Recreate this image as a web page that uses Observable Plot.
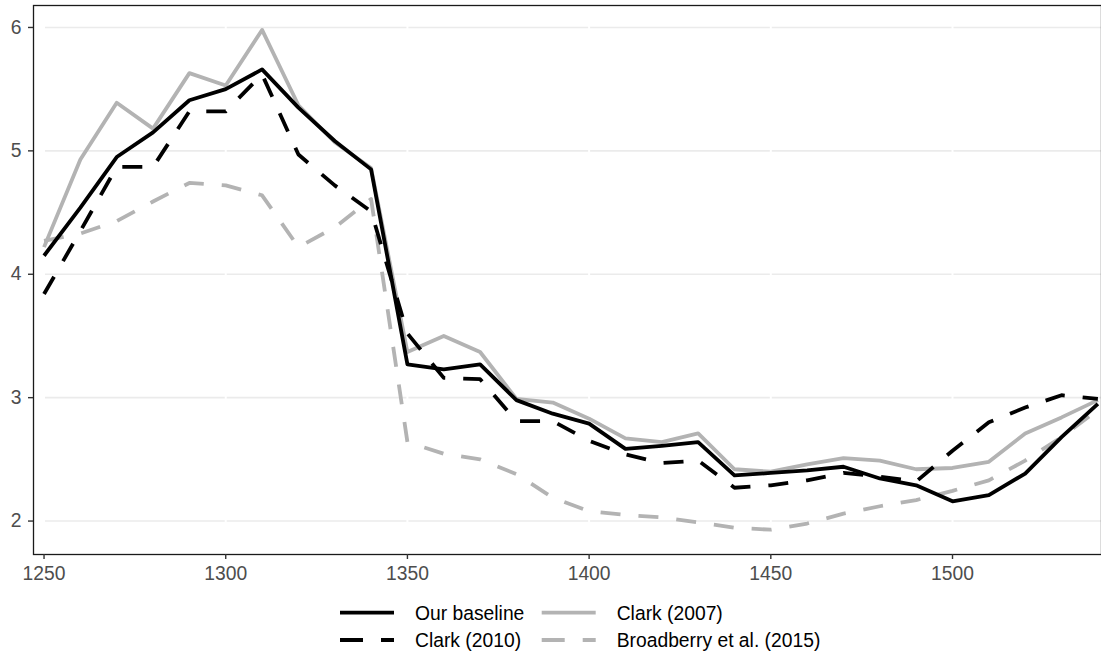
<!DOCTYPE html>
<html><head><meta charset="utf-8">
<script src="https://cdn.jsdelivr.net/npm/d3@7"></script>
<script src="https://cdn.jsdelivr.net/npm/@observablehq/plot@0.6"></script>
<style>
body{margin:0;background:#fff;font-family:"Liberation Sans",Arial,sans-serif}
#chart{width:1101px;position:relative}
</style>
</head><body><div id="chart"></div>
<script>
const years = [1250,1260,1270,1280,1290,1300,1310,1320,1330,1340,1350,1360,1370,1380,1390,1400,1410,1420,1430,1440,1450,1460,1470,1480,1490,1500,1510,1520,1530,1540];
const baseline = [4.15,4.54,4.95,5.15,5.41,5.50,5.66,5.35,5.08,4.85,3.27,3.23,3.27,2.98,2.87,2.79,2.585,2.61,2.64,2.37,2.39,2.41,2.44,2.345,2.29,2.16,2.21,2.385,2.68,2.95];
const clark2007 = [4.22,4.93,5.39,5.18,5.63,5.53,5.98,5.37,5.07,4.86,3.37,3.50,3.37,2.99,2.96,2.83,2.67,2.64,2.71,2.42,2.40,2.46,2.51,2.49,2.42,2.43,2.48,2.71,2.84,2.98];
const clark2010 = [3.84,4.35,4.87,4.87,5.32,5.32,5.62,4.97,4.72,4.51,3.52,3.16,3.15,2.81,2.81,2.65,2.54,2.47,2.49,2.27,2.29,2.33,2.39,2.36,2.32,2.57,2.80,2.92,3.02,2.99];
const broadberry = [4.27,4.33,4.43,4.59,4.74,4.72,4.64,4.22,4.38,4.61,2.64,2.545,2.50,2.38,2.19,2.08,2.05,2.03,1.99,1.945,1.93,1.98,2.06,2.12,2.17,2.245,2.33,2.49,2.68,2.90];
const seriesNames = ["Our baseline","Clark (2007)","Clark (2010)","Broadberry et al. (2015)"];
const xTicks = [1250,1300,1350,1400,1450,1500];
const yTicks = [2,3,4,5,6];

const rows = (vals) => years.map((year, i) => ({year, value: vals[i]}));
const GRAY = "#b3b3b3", BLACK = "#000000";
const DASH = "20,18";
const LW = 3.8;
const FS = 19.3;

const chart = Plot.plot({
  width: 1101, height: 590,
  marginTop: 5, marginBottom: 36, marginLeft: 33, marginRight: 0,
  x: {domain: [1247.1, 1541]},
  y: {domain: [1.729, 6.178]},
  style: {fontFamily: '"Liberation Sans", Arial, sans-serif', fontSize: FS + "px", background: "white", overflow: "visible"},
  marks: [
    Plot.ruleY(yTicks, {x1: 1250, x2: 1541, stroke: "#ebebeb", strokeWidth: 1.6}),
    Plot.ruleX(xTicks, {stroke: "white", strokeWidth: 2}),
    Plot.line(rows(broadberry), {x: "year", y: "value", stroke: GRAY, strokeWidth: LW, strokeDasharray: DASH, strokeLinecap: "butt"}),
    Plot.line(rows(clark2007), {x: "year", y: "value", stroke: GRAY, strokeWidth: LW, strokeLinecap: "butt"}),
    Plot.line(rows(clark2010), {x: "year", y: "value", stroke: BLACK, strokeWidth: LW, strokeDasharray: DASH, strokeLinecap: "butt"}),
    Plot.line(rows(baseline), {x: "year", y: "value", stroke: BLACK, strokeWidth: LW, strokeLinecap: "butt"}),
    Plot.frame({stroke: "#1a1a1a", strokeWidth: 1.3}),
    Plot.axisX({ticks: xTicks, tickSize: 5, tickPadding: 7, fontSize: FS, tickFormat: d => String(d), fill: "#4d4d4d", stroke: "#333", strokeWidth: 1.4, label: null}),
    Plot.axisY({ticks: yTicks, tickSize: 5, tickPadding: 7, fontSize: FS, tickFormat: d => String(d), fill: "#4d4d4d", stroke: "#333", strokeWidth: 1.4, label: null})
  ]
});
document.getElementById("chart").appendChild(chart);

// legend
const legendItems = [
  {name: seriesNames[0], color: BLACK, dash: null, col: 0, row: 0},
  {name: seriesNames[1], color: GRAY, dash: null, col: 1, row: 0},
  {name: seriesNames[2], color: BLACK, dash: "23,18", col: 0, row: 1},
  {name: seriesNames[3], color: GRAY, dash: "23,18", col: 1, row: 1}
];
const colX = [340, 541.7];
const rowY = [22.7, 50];
const leg = d3.select("#chart").append("svg")
  .attr("width", 1101).attr("height", 69)
  .style("display", "block")
  .style("font-family", '"Liberation Sans", Arial, sans-serif');
const g = leg.selectAll("g").data(legendItems).join("g")
  .attr("transform", d => `translate(${colX[d.col]},${rowY[d.row]})`);
g.append("line").attr("x1", 0).attr("x2", 54).attr("y1", 0).attr("y2", 0)
  .attr("stroke", d => d.color).attr("stroke-width", LW)
  .attr("stroke-dasharray", d => d.dash);
g.append("text").attr("x", 75).attr("y", 0).attr("dy", "0.36em")
  .attr("font-size", FS).attr("fill", "#000").text(d => d.name);
</script>
</body></html>
